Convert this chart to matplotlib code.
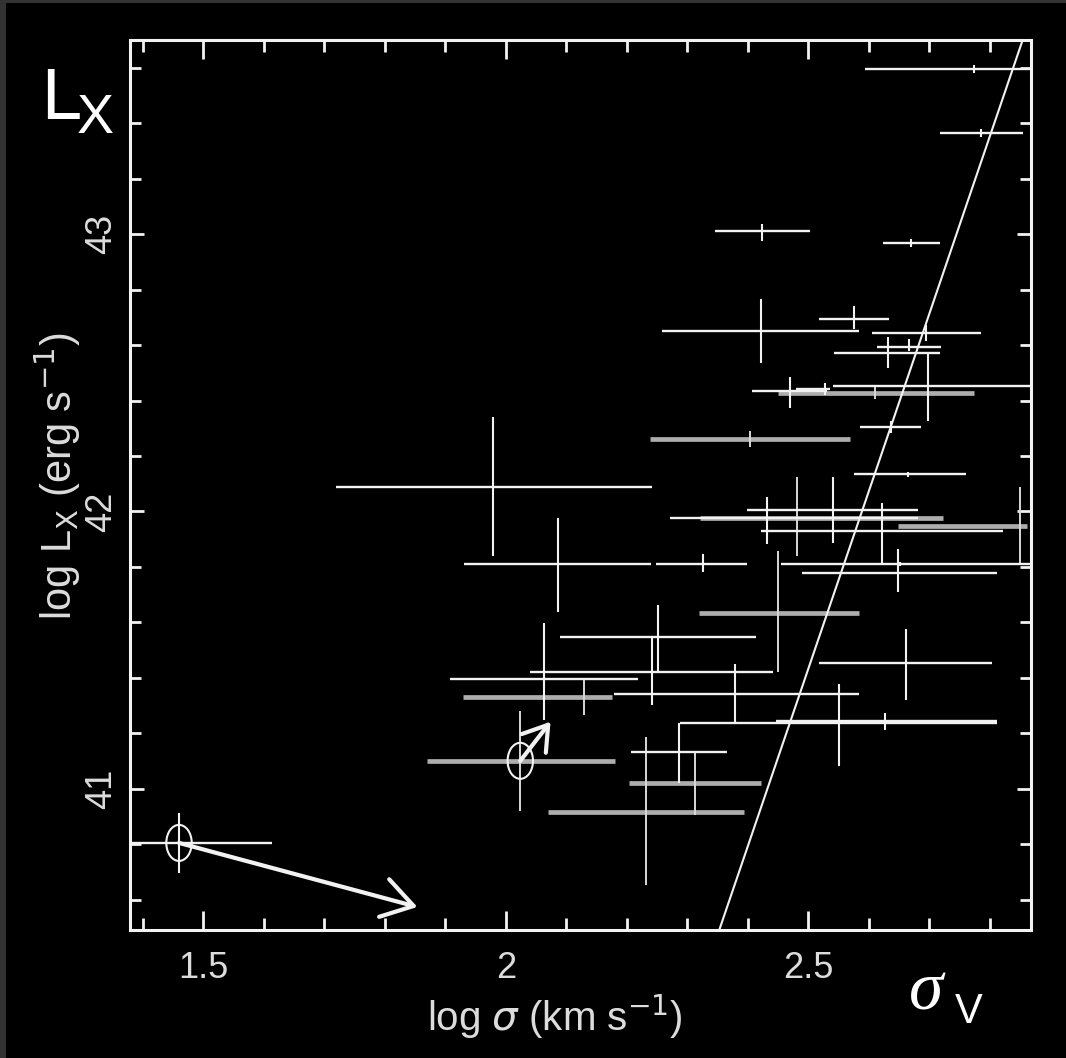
import matplotlib
matplotlib.use("Agg")
import matplotlib.pyplot as plt
import numpy as np
from matplotlib.patches import Ellipse, Rectangle

# ---- measured groups: log sigma (x) and log L_X (y) with error extents ----
# white crosses
w_x    = [2.773, 2.786, 2.424, 2.669, 2.576, 2.421, 2.695, 2.667, 2.631, 2.698,
          2.470, 2.528, 2.637, 2.665, 1.979, 2.540, 2.431, 2.622, 2.087, 2.326,
          2.652, 2.649, 2.252, 2.242, 2.064, 2.379, 2.662, 2.551, 2.626, 2.287,
          1.460]
w_y    = [43.596, 43.365, 43.011, 42.968, 42.693, 42.650, 42.643, 42.592, 42.570, 42.451,
          42.433, 42.440, 42.303, 42.134, 42.087, 42.007, 41.975, 41.928, 41.812, 41.812,
          41.812, 41.780, 41.549, 41.422, 41.397, 41.343, 41.455, 41.238, 41.245, 41.134,
          40.805]
w_xlo  = [2.594, 2.717, 2.346, 2.624, 2.517, 2.259, 2.606, 2.614, 2.543, 2.541,
          2.407, 2.479, 2.586, 2.576, 1.720, 2.399, 2.272, 2.421, 1.931, 2.249,
          2.455, 2.490, 2.090, 2.040, 1.908, 2.179, 2.518, 2.288, 2.447, 2.207,
          1.370]
w_xhi  = [2.870, 2.854, 2.502, 2.717, 2.634, 2.583, 2.786, 2.720, 2.717, 2.870,
          2.531, 2.536, 2.687, 2.760, 2.242, 2.682, 2.682, 2.822, 2.240, 2.399,
          2.870, 2.812, 2.414, 2.442, 2.219, 2.583, 2.804, 2.812, 2.812, 2.366,
          1.614]
w_ylo  = [43.581, 43.350, 42.975, 42.953, 42.657, 42.534, 42.614, 42.578, 42.516, 42.325,
          42.372, 42.419, 42.282, 42.123, 41.838, 41.888, 41.881, 41.816, 41.639, 41.783,
          41.805, 41.711, 41.422, 41.303, 41.249, 41.238, 41.321, 41.083, 41.213, 41.022,
          40.697]
w_yhi  = [43.610, 43.379, 43.036, 42.982, 42.740, 42.765, 42.671, 42.621, 42.628, 42.570,
          42.484, 42.462, 42.325, 42.144, 42.339, 42.126, 42.051, 42.032, 41.978, 41.845,
          41.819, 41.863, 41.664, 41.549, 41.599, 41.451, 41.578, 41.379, 41.274, 41.238,
          40.913]

# grey crosses
g_x    = [2.404, 2.611, 2.482, 2.850, 2.450, 2.130, 2.024, 2.312, 2.231]
g_y    = [42.260, 42.426, 41.975, 41.949, 41.635, 41.332, 41.101, 41.022, 40.917]
g_xlo  = [2.239, 2.450, 2.321, 2.649, 2.320, 1.930, 1.870, 2.204, 2.070]
g_xhi  = [2.569, 2.773, 2.723, 2.862, 2.583, 2.176, 2.181, 2.422, 2.393]
g_ylo  = [42.231, 42.404, 41.838, 41.809, 41.422, 41.267, 40.921, 40.906, 40.653]
g_yhi  = [42.289, 42.455, 42.126, 42.090, 41.856, 41.397, 41.282, 41.134, 41.188]

# circled groups and the directions of their arrows
circ_x = [1.460, 2.024]
circ_y = [40.805, 41.101]
arrow_tip_x = [1.854, 2.074]
arrow_tip_y = [40.574, 41.242]
arrow_head = [(2.2, 1.4), (1.7, 1.1)]

# fitted relation  log L = a + b log sigma
fit_a, fit_b = 25.433, 6.40

xlim = (1.379, 2.868)
ylim = (40.491, 43.700)
xticks = [1.5, 2.0, 2.5]
xticklabels = ["1.5", "2", "2.5"]
yticks = [41, 42, 43]
yticklabels = ["41", "42", "43"]

W, H = 1066, 1058
fig = plt.figure(figsize=(W / 100, H / 100), dpi=100)
fig.patch.set_facecolor("#333333")
fig.add_artist(Rectangle((6 / W, 0), 1, 1 - 3 / H, transform=fig.transFigure,
                         facecolor="black", edgecolor="none", zorder=0))

ax = fig.add_axes([130 / W, 1 - 930 / H, (1031 - 130) / W, (930 - 40) / H])
ax.set_facecolor("black")
ax.set_xlim(*xlim)
ax.set_ylim(*ylim)

fg = "#f2f2f2"
grey = "#adadad"

def draw_crosses(xs, ys, xlo, xhi, ylo, yhi, hcol, hlw, vcol, vlw, z):
    xs, ys = np.array(xs), np.array(ys)
    xerr = np.vstack([xs - np.array(xlo), np.array(xhi) - xs])
    yerr = np.vstack([ys - np.array(ylo), np.array(yhi) - ys])
    ax.errorbar(xs, ys, xerr=xerr, fmt="none", ecolor=hcol, elinewidth=hlw,
                capsize=0, zorder=z)
    ax.errorbar(xs, ys, yerr=yerr, fmt="none", ecolor=vcol, elinewidth=vlw,
                capsize=0, zorder=z + 0.1)

draw_crosses(g_x, g_y, g_xlo, g_xhi, g_ylo, g_yhi, grey, 3.4, "#d8d8d8", 1.4, 2)
draw_crosses(w_x, w_y, w_xlo, w_xhi, w_ylo, w_yhi, fg, 1.7, fg, 1.5, 3)

# fitted line
xf = np.array(xlim)
ax.plot(xf, fit_a + fit_b * xf, color=fg, lw=1.5, zorder=4)

# circled points with arrows
for cx, cy, tx, ty, (hl, hw) in zip(circ_x, circ_y, arrow_tip_x, arrow_tip_y, arrow_head):
    ax.add_patch(Ellipse((cx, cy), 0.042, 0.13, facecolor="none",
                         edgecolor=fg, lw=1.5, zorder=5))
    ax.annotate("", xy=(tx, ty), xytext=(cx, cy),
                arrowprops=dict(arrowstyle=f"->,head_length={hl},head_width={hw}",
                                color=fg, lw=3.0, shrinkA=0, shrinkB=0),
                zorder=5)

# frame, ticks and labels
for s in ax.spines.values():
    s.set_color(fg)
    s.set_linewidth(2.2)

ax.set_xticks(xticks)
ax.set_xticklabels(xticklabels)
ax.set_xticks(np.arange(1.4, 2.85, 0.1), minor=True)
ax.set_yticks(yticks)
ax.set_yticklabels(yticklabels, rotation=90, va="center")
ax.set_yticks(np.arange(40.6, 43.7, 0.2), minor=True)

ax.tick_params(axis="x", which="major", direction="in", length=14, width=2,
               color=fg, top=True, bottom=True, pad=15)
ax.tick_params(axis="x", which="minor", direction="in", length=8.5, width=2,
               color=fg, top=True, bottom=True)
ax.tick_params(axis="y", which="major", direction="in", length=10, width=2,
               color=fg, left=True, right=True, pad=8)
ax.tick_params(axis="y", which="minor", direction="in", length=8, width=2,
               color=fg, left=True, right=True)

label_font = ["Liberation Sans", "DejaVu Sans"]
for lab in ax.get_xticklabels() + ax.get_yticklabels():
    lab.set_family(label_font)
    lab.set_fontsize(26)
    lab.set_color("#dcdcdc")

ax.set_xlabel(r"log $\sigma$ (km s$^{-1}$)", family=label_font, fontsize=29,
              color="#dcdcdc")
ax.xaxis.set_label_coords(0.472, -0.070)
ax.set_ylabel(r"log L$_{\rm X}$ (erg s$^{-1}$)", family=label_font, fontsize=30,
              color="#dcdcdc")
ax.yaxis.set_label_coords(-0.052, 0.51)

# corner annotations
sans = ["Liberation Sans", "DejaVu Sans"]
fig.text(41 / W, 1 - 119 / H, "L", family=sans, fontsize=52, color="white")
fig.text(77 / W, 1 - 133 / H, "X", family=sans, fontsize=40, color="white")
fig.text(909 / W, 1 - 1010 / H, "\u03c3", family=["Liberation Serif", "DejaVu Serif"],
         style="italic", fontsize=50, color="white")
fig.text(955 / W, 1 - 1023 / H, "V", family=sans, fontsize=30, color="white")

fig.savefig("out.png", dpi=100, facecolor=fig.get_facecolor())
